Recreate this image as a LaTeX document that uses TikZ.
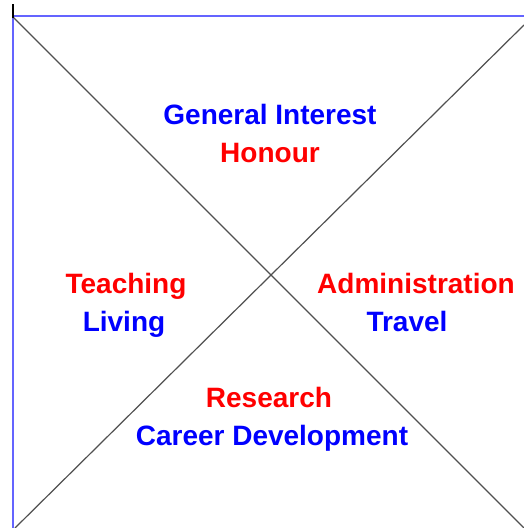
\documentclass[tikz,border=0pt]{standalone}
\usepackage{fontspec}
\setmainfont{Liberation Sans}
\begin{document}
\begin{tikzpicture}[x=1pt,y=-1pt,
  lbl/.style={font=\fontsize{28}{31}\selectfont\bfseries, inner sep=0pt, anchor=base},
  bluetxt/.style={lbl, text={rgb,255:red,0;green,0;blue,255}},
  redtxt/.style={lbl, text={rgb,255:red,255;green,0;blue,0}},
  frame/.style={draw={rgb,255:red,100;green,100;blue,255}, line width=2pt},
  diag/.style={draw={rgb,255:red,80;green,80;blue,80}, line width=1.2pt}]
\useasboundingbox (0,0) rectangle (524,528);
\fill[white] (0,0) rectangle (524,528);
\coordinate (tl) at (13,16);
\coordinate (tr) at (524,16);
\coordinate (bl) at (13,528);
\coordinate (d1a) at (13,17);
\coordinate (d1b) at (524,528);
\coordinate (d2a) at (524,25);
\coordinate (d2b) at (15,528);
\coordinate (tka) at (13,4);
\coordinate (tkb) at (13,18);
\draw[frame] (bl) -- (tl) -- (tr);
\draw[diag] (d1a) -- (d1b);
\draw[diag] (d2a) -- (d2b);
\draw[line width=2pt, black] (tka) -- (tkb);
\node[bluetxt] (gi) at (270,124) {General Interest};
\node[redtxt] (ho) at (270,162) {Honour};
\node[redtxt] (te) at (126,293) {Teaching};
\node[bluetxt] (li) at (124,331) {Living};
\node[redtxt] (ad) at (416,293) {Administration};
\node[bluetxt] (tr2) at (407,331) {Travel};
\node[redtxt] (re) at (269,407) {Research};
\node[bluetxt] (cd) at (272,445) {Career Development};
\end{tikzpicture}
\end{document}
